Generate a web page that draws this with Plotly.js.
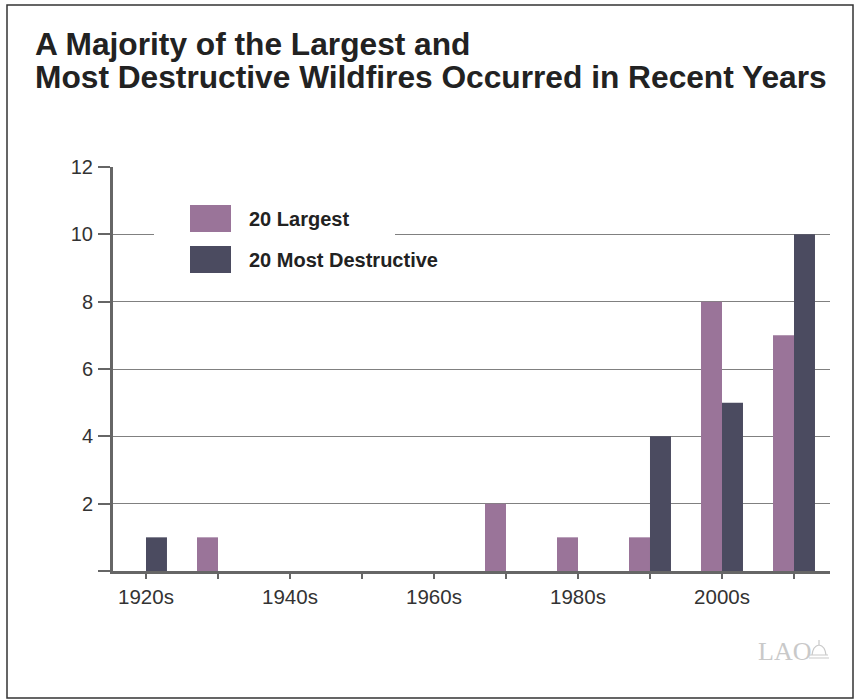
<!DOCTYPE html>
<html>
<head>
<meta charset="utf-8">
<script src="https://cdn.plot.ly/plotly-3.0.1.min.js"></script>
<style>html,body{margin:0;padding:0;background:#fff;}#chart{width:854px;height:700px;}</style>
</head>
<body>
<div id="chart"></div>
<script>
const decades = ['1920s','1930s','1940s','1950s','1960s','1970s','1980s','1990s','2000s','2010s'];
const largest = [0,1,0,0,0,2,1,1,8,7];
const destructive = [1,0,0,0,0,0,0,4,5,10];
const seriesNames = ['20 Largest','20 Most Destructive'];
const seriesColors = ['#9a7499','#4b4b60'];
const xTickText = ['1920s','','1940s','','1960s','','1980s','','2000s',''];
const yTickVals = [0,2,4,6,8,10,12];
const yTickText = ['','2','4','6','8','10','12'];
const titleLines = ['A Majority of the Largest and','Most Destructive Wildfires Occurred in Recent Years'];

// plot area in pixels (for placing decorations)
const PL = 113, PR = 830, PT = 167, PB = 571;
const px = v => (v - PL) / (PR - PL);
const py = v => (PB - v) / (PB - PT);

const traces = [
  {type:'bar', x: decades, y: largest, name: seriesNames[0], marker:{color: seriesColors[0]}, showlegend:false, hoverinfo:'x+y'},
  {type:'bar', x: decades, y: destructive, name: seriesNames[1], marker:{color: seriesColors[1]}, showlegend:false, hoverinfo:'x+y'}
];

const shapes = [
  {type:'rect', xref:'paper', yref:'paper', x0:px(7), x1:px(853), y0:py(5), y1:py(698), line:{color:'#333', width:1.5}, fillcolor:'rgba(0,0,0,0)', layer:'above'},
  {type:'rect', xref:'paper', yref:'paper', x0:px(154), x1:px(395), y0:py(196), y1:py(284), line:{width:0}, fillcolor:'#ffffff', layer:'above'},
  {type:'rect', xref:'paper', yref:'paper', x0:px(190), x1:px(231), y0:py(205), y1:py(232), line:{width:0}, fillcolor:seriesColors[0], layer:'above'},
  {type:'rect', xref:'paper', yref:'paper', x0:px(190), x1:px(231), y0:py(246), y1:py(273), line:{width:0}, fillcolor:seriesColors[1], layer:'above'},
  {type:'path', xref:'paper', yref:'paper', layer:'above', line:{color:'#c9c9c9', width:1.2}, fillcolor:'rgba(0,0,0,0)',
   path:`M ${px(809)} ${py(658)} L ${px(829)} ${py(658)} M ${px(810)} ${py(655)} L ${px(828)} ${py(655)} M ${px(812)} ${py(655)} Q ${px(813)} ${py(646)} ${px(819)} ${py(645)} Q ${px(825)} ${py(646)} ${px(826)} ${py(655)} M ${px(819)} ${py(645)} L ${px(819)} ${py(640)}`}
];

const titleFont = {family:'Liberation Sans Narrow, Arial Narrow, Liberation Sans, sans-serif', size:31.7, color:'#222', weight:700};
const legendFont = {family:'Liberation Sans, Arial, sans-serif', size:20, color:'#222', weight:700};

const annotations = [
  {xref:'paper', yref:'paper', x:px(33), y:py(44), xanchor:'left', yanchor:'middle', showarrow:false, text:titleLines[0], font:titleFont},
  {xref:'paper', yref:'paper', x:px(33), y:py(77), xanchor:'left', yanchor:'middle', showarrow:false, text:titleLines[1], font:titleFont},
  {xref:'paper', yref:'paper', x:px(247), y:py(219), xanchor:'left', yanchor:'middle', showarrow:false, text:seriesNames[0], font:legendFont},
  {xref:'paper', yref:'paper', x:px(247), y:py(260), xanchor:'left', yanchor:'middle', showarrow:false, text:seriesNames[1], font:legendFont},
  {xref:'paper', yref:'paper', x:px(756), y:py(651), xanchor:'left', yanchor:'middle', showarrow:false, text:'LAO', font:{family:'Liberation Serif, serif', size:26, color:'#c9c9c9'}}
];

const layout = {
  width: 854, height: 700,
  paper_bgcolor:'#ffffff', plot_bgcolor:'#ffffff',
  margin:{l:PL, r:854-PR, t:PT, b:700-PB, pad:0},
  barmode:'group', bargap:0.417, bargroupgap:0,
  xaxis:{type:'category', range:[-0.458, 9.5], tickvals:decades, ticktext:xTickText,
         showline:true, linewidth:3, linecolor:'#666', ticks:'outside', ticklen:5, tickwidth:2, tickcolor:'#666',
         showgrid:false, zeroline:false, ticklabelstandoff:0,
         tickfont:{family:'Liberation Sans, Arial, sans-serif', size:20.5, color:'#333'}, fixedrange:true},
  yaxis:{range:[0,12], tickvals:yTickVals, ticktext:yTickText,
         showline:true, linewidth:3, linecolor:'#666', ticks:'outside', ticklen:12, tickwidth:2, tickcolor:'#666',
         showgrid:true, gridcolor:'#808080', gridwidth:1, zeroline:false, ticklabelstandoff:1,
         tickfont:{family:'Liberation Sans, Arial, sans-serif', size:20, color:'#333'}, fixedrange:true},
  shapes: shapes,
  annotations: annotations,
  showlegend:false
};

Plotly.newPlot('chart', traces, layout, {displayModeBar:false, staticPlot:true});
</script>
</body>
</html>
